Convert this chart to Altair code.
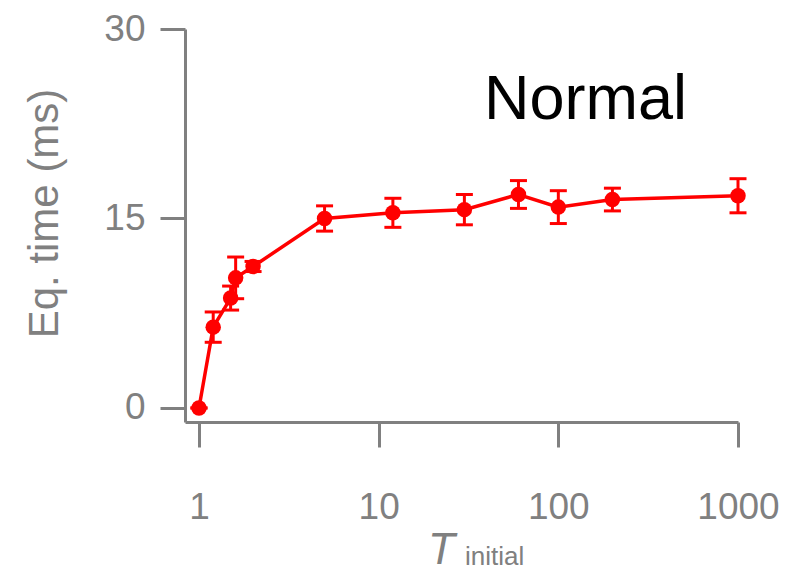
import altair as alt
import pandas as pd

# Data
t_initial = [1, 1.2, 1.5, 1.6, 2, 5, 12, 30, 60, 100, 200, 1000]
eq_time = [0, 6.4, 8.7, 10.3, 11.2, 15.0, 15.45, 15.7, 16.9, 15.9, 16.5, 16.8]
eq_err = [0, 1.2, 0.95, 1.65, 0.4, 1.0, 1.15, 1.2, 1.1, 1.3, 0.9, 1.35]

x_ticks = [1, 10, 100, 1000]
y_ticks = [0, 15, 30]

df = pd.DataFrame({"x": t_initial, "y": eq_time, "err": eq_err})
df["lo"] = df["y"] - df["err"]
df["hi"] = df["y"] + df["err"]

RED = "#ff0000"
GRAY = "#808080"
FONT = "Liberation Sans"

W, H = 553, 393

xscale = alt.Scale(type="log", domain=[0.836, 1000], nice=False)
yscale = alt.Scale(domain=[-1.11, 30], nice=False, zero=False)

xaxis = alt.Axis(values=x_ticks, format="d", title=None, grid=False,
                 domainColor=GRAY, domainWidth=3, tickColor=GRAY, tickWidth=3,
                 tickSize=25, labelColor=GRAY, labelFont=FONT, labelFontSize=37,
                 labelPadding=42, labelFlush=False, labelOverlap=False)
yaxis = alt.Axis(values=y_ticks, title="Eq. time (ms)", grid=False,
                 domainColor=GRAY, domainWidth=3, tickColor=GRAY, tickWidth=3,
                 tickSize=25, labelColor=GRAY, labelFont=FONT, labelFontSize=37,
                 labelPadding=15, labelFlush=False,
                 titleColor=GRAY, titleFont=FONT, titleFontSize=42,
                 titleFontWeight="normal", titleAngle=-90,
                 titleX=-141, titleY=184, titleAlign="center",
                 titleBaseline="middle")

base = alt.Chart(df)

rules = base.mark_rule(color=RED, strokeWidth=3, opacity=1).encode(
    x=alt.X("x:Q", scale=xscale, axis=xaxis),
    y=alt.Y("lo:Q", scale=yscale, axis=yaxis),
    y2="hi:Q",
)
caps_hi = base.mark_tick(color=RED, thickness=3, size=17, orient="horizontal", opacity=1).encode(
    x=alt.X("x:Q", scale=xscale), y=alt.Y("hi:Q", scale=yscale))
caps_lo = base.mark_tick(color=RED, thickness=3, size=17, orient="horizontal", opacity=1).encode(
    x=alt.X("x:Q", scale=xscale), y=alt.Y("lo:Q", scale=yscale))
line = base.mark_line(color=RED, strokeWidth=3.5).encode(
    x=alt.X("x:Q", scale=xscale), y=alt.Y("y:Q", scale=yscale))
points = base.mark_circle(color=RED, size=240, opacity=1).encode(
    x=alt.X("x:Q", scale=xscale), y=alt.Y("y:Q", scale=yscale))

label_normal = alt.Chart(pd.DataFrame({"t": ["Normal"]})).mark_text(
    align="left", baseline="alphabetic", font=FONT, fontSize=63, color="black"
).encode(text="t:N", x=alt.value(299), y=alt.value(90))

title_T = alt.Chart(pd.DataFrame({"t": ["T"]})).mark_text(
    align="left", baseline="alphabetic", font=FONT, fontSize=44,
    fontStyle="italic", color=GRAY
).encode(text="t:N", x=alt.value(243), y=alt.value(535))

title_sub = alt.Chart(pd.DataFrame({"t": ["initial"]})).mark_text(
    align="left", baseline="alphabetic", font=FONT, fontSize=26, color=GRAY
).encode(text="t:N", x=alt.value(280), y=alt.value(536))

chart = alt.layer(rules, caps_hi, caps_lo, line, points, label_normal, title_T, title_sub).properties(
    width=W, height=H,
    autosize=alt.AutoSizeParams(type="none"),
    padding={"left": 177, "top": 21, "right": 44, "bottom": 152},
).configure_view(stroke=None)

chart.save("out.html", embed_options={"renderer": "svg", "actions": False})
